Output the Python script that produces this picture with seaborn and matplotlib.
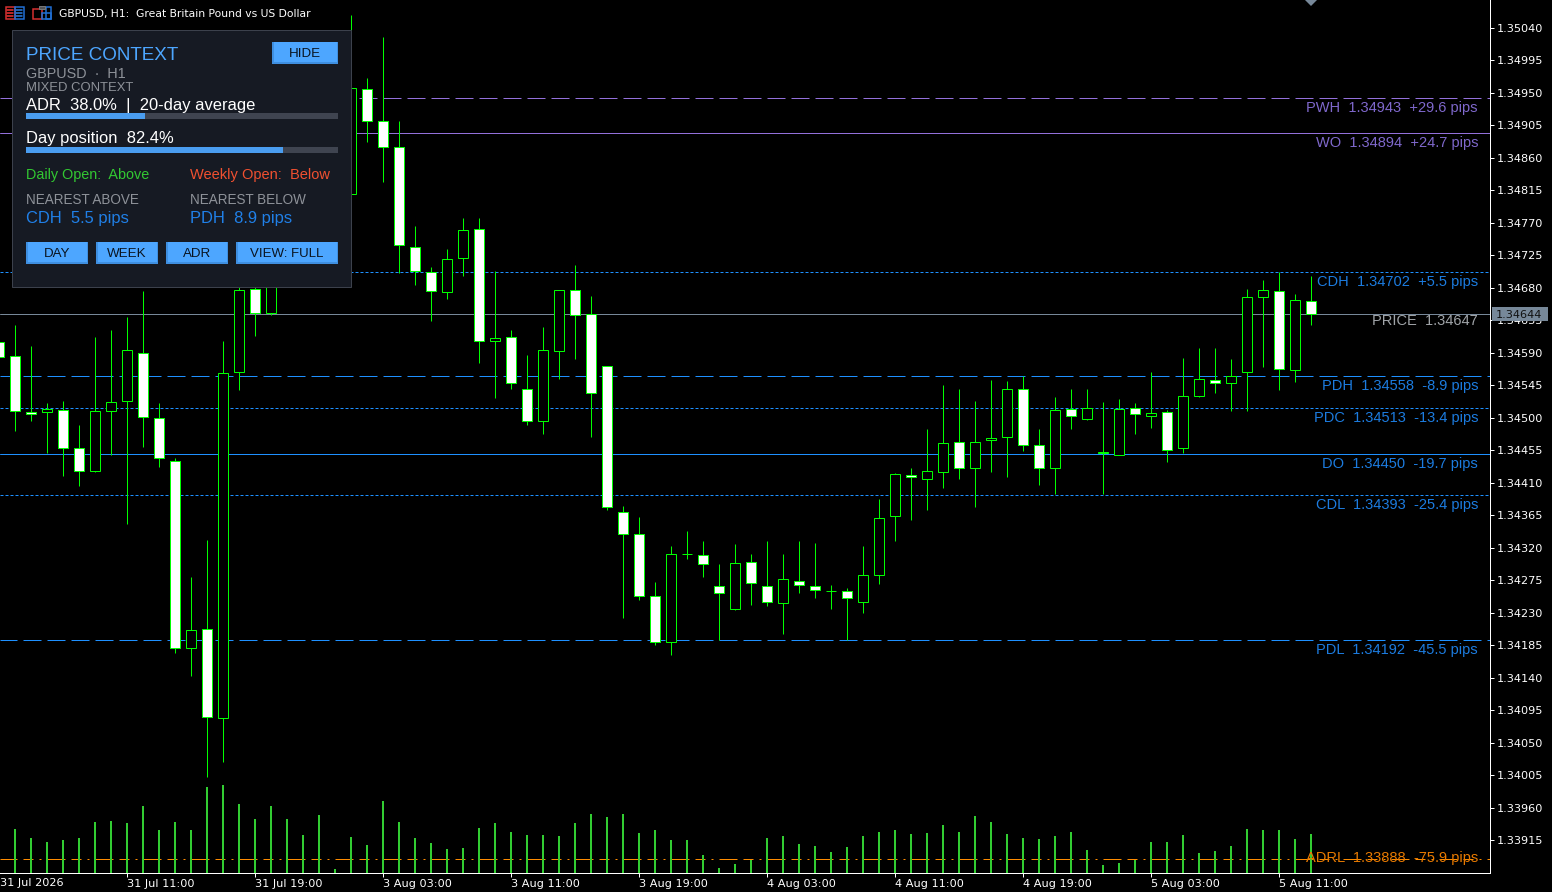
# GBPUSD H1 chart with the Price Context panel
import numpy as np
import pandas as pd
import matplotlib.pyplot as plt
from matplotlib.patches import Rectangle, Polygon
import seaborn as sns

# Prices in points (1 point = 0.00001)
open_pts = [134605, 134586, 134508, 134508, 134511, 134458, 134427, 134509, 134524, 134590,
            134500, 134440, 134181, 134208, 134084, 134564, 134678, 134645, 134705, 134754,
            134788, 134767, 134810, 134955, 134911, 134875, 134737, 134702, 134674, 134721,
            134761, 134606, 134612, 134540, 134495, 134593, 134677, 134644, 134572, 134370,
            134339, 134253, 134189, 134311, 134310, 134267, 134235, 134300, 134267, 134243,
            134274, 134267, 134260, 134260, 134245, 134283, 134364, 134421, 134416, 134425,
            134467, 134430, 134469, 134473, 134540, 134462, 134431, 134512, 134499, 134451,
            134449, 134514, 134503, 134508, 134458, 134530, 134552, 134548, 134563, 134667,
            134676, 134566, 134662]
high_pts = [134608, 134628, 134599, 134520, 134524, 134490, 134612, 134622, 134640, 134676,
            134521, 134445, 134279, 134331, 134606, 134691, 134691, 134716, 134767, 134802,
            134795, 134825, 135058, 134971, 135028, 134911, 134765, 134709, 134734, 134777,
            134777, 134704, 134622, 134587, 134626, 134677, 134712, 134669, 134572, 134378,
            134363, 134273, 134323, 134344, 134330, 134297, 134326, 134311, 134329, 134311,
            134329, 134327, 134269, 134265, 134323, 134388, 134424, 134430, 134484, 134546,
            134540, 134524, 134553, 134551, 134558, 134485, 134529, 134540, 134540, 134522,
            134526, 134520, 134563, 134511, 134583, 134597, 134597, 134582, 134678, 134691,
            134702, 134672, 134696]
low_pts = [134581, 134482, 134496, 134452, 134419, 134405, 134425, 134448, 134353, 134460,
           134432, 134175, 134143, 134003, 134023, 134538, 134614, 134643, 134698, 134740,
           134755, 134760, 134788, 134882, 134826, 134701, 134684, 134634, 134665, 134696,
           134576, 134528, 134540, 134490, 134478, 134554, 134582, 134474, 134373, 134223,
           134248, 134186, 134171, 134304, 134280, 134193, 134234, 134241, 134239, 134201,
           134257, 134250, 134236, 134193, 134230, 134270, 134329, 134358, 134373, 134403,
           134416, 134376, 134425, 134418, 134454, 134407, 134394, 134485, 134497, 134394,
           134448, 134477, 134486, 134439, 134452, 134529, 134535, 134509, 134509, 134571,
           134538, 134549, 134628]
close_pts = [134584, 134510, 134506, 134512, 134458, 134426, 134510, 134522, 134594, 134501,
             134444, 134182, 134206, 134086, 134562, 134677, 134645, 134705, 134754, 134788,
             134767, 134809, 134957, 134911, 134875, 134739, 134703, 134675, 134720, 134760,
             134606, 134611, 134548, 134495, 134594, 134677, 134642, 134534, 134376, 134339,
             134254, 134189, 134311, 134311, 134297, 134257, 134299, 134271, 134245, 134277,
             134269, 134261, 134260, 134250, 134282, 134361, 134422, 134418, 134426, 134465,
             134430, 134467, 134472, 134540, 134462, 134430, 134511, 134503, 134514, 134453,
             134512, 134505, 134507, 134456, 134530, 134554, 134548, 134558, 134667, 134677,
             134567, 134663, 134644]
volumes = [1000, 1100, 875, 775, 825, 875, 1275, 1300, 1250, 1675, 1075, 1275, 1075, 2150, 2200,
           1725, 1350, 1675, 1350, 950, 1450, 100, 900, 700, 1800, 1275, 875, 750, 600, 625,
           1125, 1250, 1025, 950, 950, 925, 1250, 1475, 1400, 1475, 1000, 1075, 825, 825, 450,
           125, 225, 325, 875, 925, 725, 675, 525, 650, 925, 1025, 1075, 975, 1000, 1200,
           1025, 1425, 1275, 975, 875, 850, 925, 1025, 575, 200, 250, 325, 775, 775, 950,
           500, 550, 675, 1100, 1075, 1075, 850, 975]

# Key levels
level_names = ['PWH', 'WO', 'CDH', 'PRICE', 'PDH', 'PDC', 'DO', 'CDL', 'PDL', 'ADRL']
level_prices = [1.34943, 1.34894, 1.34702, 1.34644, 1.34558, 1.34513, 1.34450, 1.34393, 1.34192, 1.33889]
level_texts = ['PWH  1.34943  +29.6 pips', 'WO  1.34894  +24.7 pips', 'CDH  1.34702  +5.5 pips',
               'PRICE  1.34647', 'PDH  1.34558  -8.9 pips', 'PDC  1.34513  -13.4 pips',
               'DO  1.34450  -19.7 pips', 'CDL  1.34393  -25.4 pips', 'PDL  1.34192  -45.5 pips',
               'ADRL  1.33888  -75.9 pips']

time_ticks = [8, 16, 24, 32, 40, 48, 56, 64, 72, 80]
time_labels = ['31 Jul 11:00', '31 Jul 19:00', '3 Aug 03:00', '3 Aug 11:00', '3 Aug 19:00',
               '4 Aug 03:00', '4 Aug 11:00', '4 Aug 19:00', '5 Aug 03:00', '5 Aug 11:00']

df = pd.DataFrame({'bar': np.arange(len(open_pts)),
                   'open': np.array(open_pts) / 1e5, 'high': np.array(high_pts) / 1e5,
                   'low': np.array(low_pts) / 1e5, 'close': np.array(close_pts) / 1e5,
                   'volume': volumes})

sns.set_theme(style='dark', rc={'axes.facecolor': 'black', 'figure.facecolor': 'black',
                                'axes.edgecolor': 'white', 'lines.scale_dashes': False,
                                'axes.grid': False})
plt.rcParams['font.family'] = ['Liberation Sans', 'DejaVu Sans']

PX = 0.72  # one pixel in points at dpi 100
W, H = 1552, 892
PLOT_W, PLOT_H = 1490, 872.5
LIME, BLUE, PURPLE, GREY, ORANGE = '#00FF00', '#1E90FF', '#9370DB', '#778899', '#FF8C00'
AXIS_FONT = 8.1

fig = plt.figure(figsize=(W / 100, H / 100), dpi=100)
rect = [0, 1 - PLOT_H / H, PLOT_W / W, PLOT_H / H]
ax = fig.add_axes(rect, zorder=1)
ax_vol = fig.add_axes(rect, zorder=2, facecolor='none')
top = fig.add_axes([0, 0, 1, 1], zorder=3, facecolor='none')
top.set_xlim(0, W)
top.set_ylim(H, 0)
top.axis('off')

xlim = (1 / 16, (PLOT_W + 1) / 16)
ylim = (1.338705, 1.350786)


def dash(*px, offset=0):
    return (offset * PX, tuple(p * PX for p in px))


# Level lines
long_dash = dash(18, 6, offset=1)
dotted = dash(3, 2)
level_styles = ['long', 'solid', 'dot', 'solid', 'long', 'dot', 'solid', 'dot', 'long', 'dashdot']
level_colors = [PURPLE, PURPLE, BLUE, GREY, BLUE, BLUE, BLUE, BLUE, BLUE, ORANGE]
style_map = {'long': long_dash, 'solid': '-', 'dot': dotted,
             'dashdot': dash(10, 6, 2, 6, 18, 6, offset=25)}
for price, kind, color in zip(level_prices, level_styles, level_colors):
    ax.axhline(price, color=color, linewidth=PX, linestyle=style_map[kind], zorder=1)

# Candles
ax.vlines(df['bar'], df['low'], df['high'], color=LIME, linewidth=PX, zorder=2)
bottoms = df[['open', 'close']].min(axis=1)
heights = (df['open'] - df['close']).abs()
fills = ['white' if c < o else 'black' for o, c in zip(df['open'], df['close'])]
ax.bar(df['bar'], heights, bottom=bottoms, width=10 / 16, color=fills, edgecolor=LIME,
       linewidth=PX, zorder=3)

# Tick volume along the bottom
sns.barplot(data=df, x='bar', y='volume', native_scale=True, color='#32CD32', saturation=1,
            width=2.6 / 16, errorbar=None, ax=ax_vol, linewidth=0)
ax_vol.set_xlim(xlim)
ax_vol.set_ylim(0, PLOT_H * 25)
ax_vol.axis('off')

# Axes
ax.set_xlim(xlim)
ax.set_ylim(ylim)
ax.yaxis.tick_right()
ax.set_yticks(np.arange(133915, 135041, 45) / 1e5)
ax.set_yticklabels([f'{v / 1e5:.5f}' for v in np.arange(133915, 135041, 45)],
                   family='DejaVu Sans', fontsize=AXIS_FONT, color='white')
ax.set_xticks(time_ticks)
ax.set_xticklabels(time_labels, family='DejaVu Sans', fontsize=AXIS_FONT, color='white', ha='left')
ax.tick_params(axis='both', colors='white', length=3, width=PX, pad=1.5, bottom=True, right=True)
ax.tick_params(axis='x', pad=1.8)
for side in ['top', 'left']:
    ax.spines[side].set_visible(False)
for side in ['right', 'bottom']:
    ax.spines[side].set_visible(True)
    ax.spines[side].set_linewidth(PX)
    ax.spines[side].set_color('white')

top.text(0, 883.5, '31 Jul 2026', family='DejaVu Sans', fontsize=AXIS_FONT, color='white', va='center')
top.text(59, 14.5, 'GBPUSD, H1:  Great Britain Pound vs US Dollar', family='DejaVu Sans',
         fontsize=7.75, color='white', va='center')

# Labels on the right
label_colors = ['#7F68CC', '#7F68CC', '#1C7CE0', '#A0A4A8', '#1C7CE0', '#1C7CE0', '#1C7CE0',
                '#1C7CE0', '#1C7CE0', '#E87A00']
label_offsets = [10, 10, 10, 7, 10, 10, 10, 10, 10, -1]
for text, price, color, off in zip(level_texts, level_prices, label_colors, label_offsets):
    top.annotate(text, xy=(1478 / PLOT_W, price), xycoords=ax.get_yaxis_transform(),
                 xytext=(0, -off * PX), textcoords='offset points', ha='right', va='center',
                 fontsize=10.5, color=color)

# Bid tag on the price scale
top.add_patch(Rectangle((1492, 307), 56, 14, facecolor=GREY, edgecolor='none'))
top.text(1496, 314.5, '1.34644', family='DejaVu Sans', fontsize=AXIS_FONT, color='#111111', va='center')
top.add_patch(Polygon([(1305, 0), (1317, 0), (1311, 6)], facecolor=GREY, edgecolor='none'))


# Toolbar icons
def box(x, y, w, h, color, fill='none', lw=1.5):
    top.add_patch(Rectangle((x, y), w, h, facecolor=fill, edgecolor=color, linewidth=lw * PX))


box(5.5, 6.5, 9, 12, '#D83030')
box(14.5, 6.5, 9, 12, '#2070D8')
for yy in [9.5, 12.5, 15.5]:
    top.plot([7, 13], [yy, yy], color='#E83030', lw=PX * 1.6)
    top.plot([16, 22], [yy, yy], color='#2878D8', lw=PX * 1.6)
box(32.5, 8.5, 9, 10, '#D83030')
box(41.5, 12.5, 9, 6, '#2070D8')
box(45.5, 6.5, 5, 12, '#2070D8')
box(38.5, 6, 6, 3, '#777777', fill='#555555', lw=1)

# Price context panel
PANEL_BLUE, PANEL_GREY = '#4DA6FF', '#8E9299'
top.add_patch(Rectangle((12, 30), 339, 257, facecolor='#161A23', edgecolor='#3C414C',
                        linewidth=PX, zorder=4))


def ptext(x, y, s, color, size, **kw):
    top.text(x, y, s, color=color, fontsize=size, va='center', zorder=6, **kw)


def button(x, y, w, h, label, size=9.6):
    top.add_patch(Rectangle((x, y), w, h, facecolor='#3F8FE0', edgecolor='none', zorder=5))
    top.add_patch(Rectangle((x + 2, y), w - 3, h - 2, facecolor=PANEL_BLUE, edgecolor='none', zorder=5))
    top.text(x + w / 2, y + h / 2 + 0.8, label, color='#0A1420', fontsize=size, ha='center',
             va='center', zorder=6)


def progress(y, pct):
    top.add_patch(Rectangle((26, y), 312, 6, facecolor='#3F4450', edgecolor='none', zorder=5))
    top.add_patch(Rectangle((26, y), 312 * pct / 100, 6, facecolor='#4A9DF0', edgecolor='none', zorder=5))


ptext(26, 55.5, 'PRICE CONTEXT', PANEL_BLUE, 13.6)
ptext(26, 74, 'GBPUSD  ·  H1', PANEL_GREY, 10.4)
ptext(26, 88, 'MIXED CONTEXT', PANEL_GREY, 9.4)
ptext(26, 105.5, 'ADR  38.0%  |  20-day average', 'white', 11.9)
progress(113, 38.0)
ptext(26, 138.5, 'Day position  82.4%', 'white', 11.9)
progress(147, 82.4)
ptext(26, 175, 'Daily Open:  Above', '#32C832', 10.4)
ptext(190, 175, 'Weekly Open:  Below', '#F05030', 10.5)
ptext(26, 200, 'NEAREST ABOVE', PANEL_GREY, 9.75)
ptext(190, 200, 'NEAREST BELOW', PANEL_GREY, 9.75)
ptext(26, 219, 'CDH  5.5 pips', '#2080E8', 11.9)
ptext(190, 219, 'PDH  8.9 pips', '#2080E8', 11.9)
button(272, 42, 66, 22, 'HIDE')
button(26, 242, 62, 22, 'DAY')
button(96, 242, 62, 22, 'WEEK')
button(166, 242, 62, 22, 'ADR')
button(236, 242, 102, 22, 'VIEW: FULL', size=9.5)

fig.savefig('out.png', dpi=100, facecolor='black')
